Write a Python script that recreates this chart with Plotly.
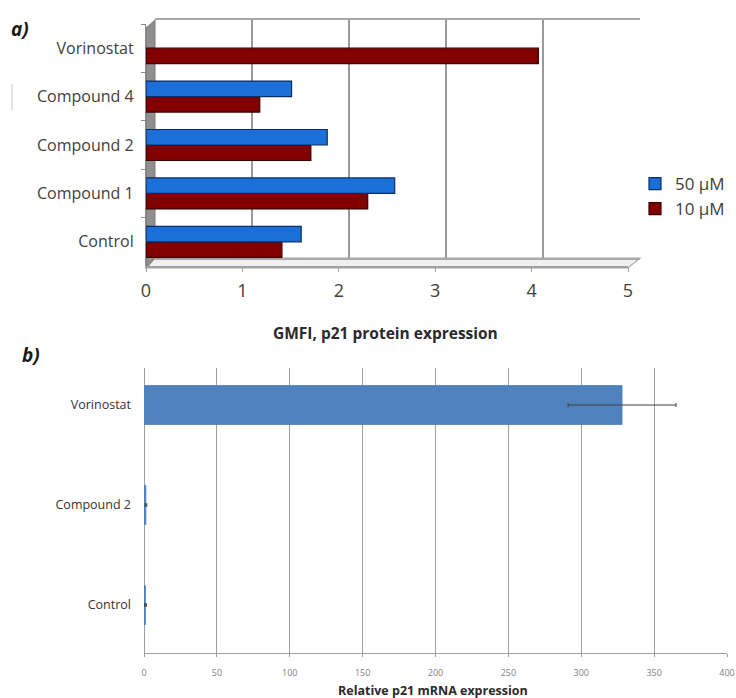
import plotly.graph_objects as go

W, H = 736, 698

# ---- Panel a data ----
cats_a = ["Control", "Compound 1", "Compound 2", "Compound 4", "Vorinostat"]
vals_50 = [1.61, 2.58, 1.88, 1.51, None]
vals_10 = [1.41, 2.30, 1.71, 1.18, 4.07]
xticks_a = [0, 1, 2, 3, 4, 5]

# ---- Panel b data ----
cats_b = ["Control", "Compound 2", "Vorinostat"]
vals_b = [1.0, 1.3, 328]
err_b = [0.6, 0.6, 37]
xticks_b = [0, 50, 100, 150, 200, 250, 300, 350, 400]


def px_x(p):
    return p / W


def px_y(p):
    return 1 - p / H


fig = go.Figure()

# back wall (grid only) for panel a
fig.add_trace(go.Scatter(x=[], y=[], xaxis="x", yaxis="y", showlegend=False,
                         hoverinfo="skip"))

# panel a bars (red first so it sits below blue in each group)
fig.add_trace(go.Bar(
    y=cats_a, x=vals_10, orientation="h", name="10 µM",
    marker=dict(color="#820000", line=dict(color="#3d0000", width=1.2)),
    xaxis="x2", yaxis="y2", legendgroup="g10"))
fig.add_trace(go.Bar(
    y=cats_a, x=vals_50, orientation="h", name="50 µM",
    marker=dict(color="#1c6fd8", line=dict(color="#0a2f66", width=1.2)),
    xaxis="x2", yaxis="y2", legendgroup="g50"))

# panel b bars
fig.add_trace(go.Bar(
    y=cats_b, x=vals_b, orientation="h", width=0.39,
    marker=dict(color="#4f81bd", line=dict(color="#4f81bd", width=0.8)),
    error_x=dict(type="data", array=err_b, color="#404040", thickness=1,
                 width=2),
    xaxis="x3", yaxis="y3", showlegend=False))

grid_c = "#a0a0a0"
text_c = "#404040"
font_fam = "Open Sans, Liberation Sans, sans-serif"

fig.update_layout(
    width=W, height=H,
    margin=dict(l=0, r=0, t=0, b=0, autoexpand=False),
    paper_bgcolor="white",
    plot_bgcolor="rgba(0,0,0,0)",
    font=dict(family=font_fam, color=text_c),
    barmode="group",
    bargap=0.36,
    bargroupgap=0.0,
    showlegend=True,
    legend=dict(x=px_x(635), y=px_y(166), xanchor="left", yanchor="top",
                traceorder="reversed", tracegroupgap=15,
                font=dict(size=17, color=text_c, family=font_fam),
                bgcolor="rgba(0,0,0,0)", itemwidth=30),
    # back wall
    xaxis=dict(domain=[px_x(155), px_x(640)], range=[0, 5], dtick=1,
               showgrid=True, gridcolor="#9a9a9a", gridwidth=1.6,
               showticklabels=False, ticks="", zeroline=False,
               showline=True, mirror=True, linecolor="#a8a8a8", linewidth=1.6,
               anchor="y", fixedrange=True, automargin=False),
    yaxis=dict(domain=[px_y(258), px_y(20)], range=[0, 1], showgrid=False,
               showticklabels=False, ticks="", zeroline=False,
               showline=False, anchor="x", fixedrange=True, automargin=False),
    # panel a bars (front)
    xaxis2=dict(domain=[px_x(146), px_x(628)], range=[0, 5],
                tickvals=xticks_a, showgrid=False, zeroline=False,
                showline=True, linecolor="#a0a0a0", linewidth=1.5,
                ticks="outside", ticklen=4, tickcolor="#a0a0a0",
                tickfont=dict(size=18, color=text_c), anchor="y2",
                ticklabelstandoff=4, automargin=False),
    yaxis2=dict(domain=[px_y(266), px_y(24)], type="category",
                categoryorder="array", categoryarray=cats_a,
                range=[-0.5, 4.5], showgrid=False, zeroline=False,
                showline=True, linecolor="#8a8a8a", linewidth=1.2,
                ticks="outside", ticklen=4, tickcolor="#8a8a8a",
                tickson="boundaries", ticklabelstandoff=8,
                tickfont=dict(size=16, color=text_c), anchor="x2",
                automargin=False),
    # panel b
    xaxis3=dict(domain=[px_x(144), px_x(727)], range=[0, 400],
                tickvals=xticks_b, showgrid=True, gridcolor=grid_c,
                gridwidth=1, zeroline=True, zerolinecolor=grid_c,
                zerolinewidth=1, showline=True, linecolor=grid_c,
                ticks="outside", ticklen=3, tickcolor=grid_c,
                ticklabelstandoff=8,
                tickfont=dict(size=9, color="#7f7f7f"), anchor="y3",
                automargin=False),
    yaxis3=dict(domain=[px_y(653), px_y(368)], type="category",
                categoryorder="array", categoryarray=cats_b,
                range=[-0.48, 2.37], showgrid=False, zeroline=False,
                showline=False, ticks="", ticklabelstandoff=12,
                tickfont=dict(size=12.5, color="#333333"), anchor="x3",
                automargin=False),
)


def P(x, y):
    return f"{px_x(x)},{px_y(y)}"


shapes = [
    # floor
    dict(type="path", xref="paper", yref="paper", layer="below",
         path=f"M {P(146,268)} L {P(628,268)} L {P(640,258)} L {P(155,258)} Z",
         fillcolor="#f0f0f0", line=dict(color="#a8a8a8", width=1.2)),
    # left wall
    dict(type="path", xref="paper", yref="paper", layer="below",
         path=f"M {P(146,268)} L {P(146,28)} L {P(155,20)} L {P(155,258)} Z",
         fillcolor="#8f8f8f", line=dict(color="#7a7a7a", width=1)),
    # scan artefact line near left edge
    dict(type="line", xref="paper", yref="paper",
         x0=px_x(12), x1=px_x(12), y0=px_y(84), y1=px_y(110),
         line=dict(color="#c8c8c8", width=1)),
]
fig.update_layout(shapes=shapes)

fig.add_annotation(text="<b><i>a)</i></b>", x=px_x(9), y=px_y(29),
                   xref="paper", yref="paper", xanchor="left",
                   yanchor="middle", showarrow=False,
                   font=dict(size=19, color="#1a1a1a"))
fig.add_annotation(text="<b><i>b)</i></b>", x=px_x(20), y=px_y(355),
                   xref="paper", yref="paper", xanchor="left",
                   yanchor="middle", showarrow=False,
                   font=dict(size=19, color="#1a1a1a"))
fig.add_annotation(text="<b>GMFI, p21 protein expression</b>",
                   x=px_x(385), y=px_y(333), xref="paper", yref="paper",
                   xanchor="center", yanchor="middle", showarrow=False,
                   font=dict(size=15.5, color="#2a2a2a"))
fig.add_annotation(text="<b>Relative p21 mRNA expression</b>",
                   x=px_x(433), y=px_y(690), xref="paper", yref="paper",
                   xanchor="center", yanchor="middle", showarrow=False,
                   font=dict(size=12.5, color="#2a2a2a"))

fig.write_html("out.html")
